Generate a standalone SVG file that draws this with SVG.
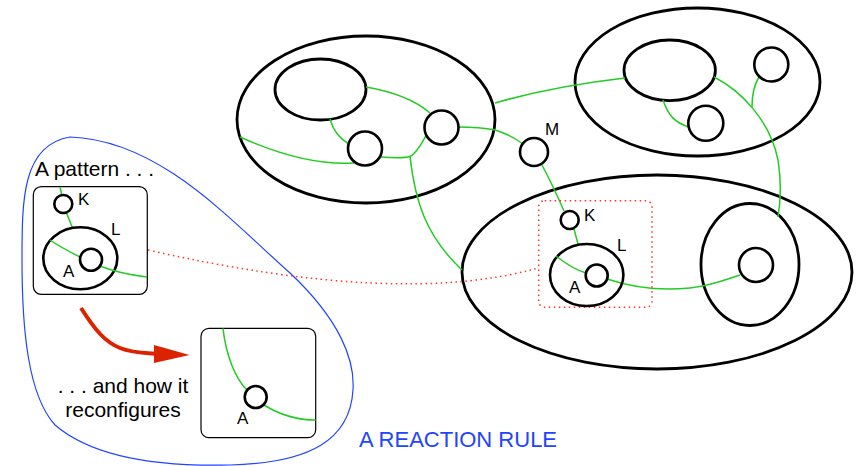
<svg xmlns="http://www.w3.org/2000/svg" width="864" height="466" viewBox="0 0 864 466">
<style>
.bg{fill:#fff}
.reg{fill:none;stroke:#000;stroke-width:2.8}
.nd{fill:#fff;stroke:#000;stroke-width:2.6}
.box{fill:#fff;stroke:#000;stroke-width:1.2}
.lnk{fill:none;stroke:#22cc22;stroke-width:1.5}
.dot{fill:none;stroke:#ff3322;stroke-width:1.5;stroke-dasharray:1.5 3.5}
.lbl{font-family:"Liberation Sans",Arial,sans-serif;font-size:17px;fill:#000}
.txt{font-family:"Liberation Sans",Arial,sans-serif;font-size:21px;fill:#000}
</style>
<rect class="bg" x="0" y="0" width="864" height="466"/>

<g id="rule-region">
<path d="M70,137 C160,140 230,220 290,273 C340,320 355,360 353,390 C350,440 310,463 230,465 C150,467 90,455 55,425 C28,395 22,330 22,260 C22,200 22,145 70,137 Z" fill="none" stroke="#2244ff" stroke-width="1.2"/>
<text x="359" y="447" font-family="Liberation Sans,Arial,sans-serif" font-size="22" fill="#2244ff">A REACTION RULE</text>
</g>

<g id="region-upper-left">
<ellipse class="reg" cx="366" cy="119.5" rx="129" ry="83.5"/>
<ellipse class="reg" cx="320.5" cy="89.5" rx="45.5" ry="30.5"/>
</g>
<g id="region-upper-right">
<ellipse class="reg" cx="697.5" cy="82" rx="122.5" ry="74"/>
<ellipse class="reg" cx="669.7" cy="70.3" rx="45.7" ry="30.3"/>
</g>
<g id="region-lower">
<ellipse class="reg" cx="657" cy="272" rx="195" ry="97"/>
<ellipse class="reg" cx="750" cy="264.5" rx="49" ry="61"/>
</g>

<g id="connectors">
<path class="lnk" d="M366,87 C395,92 415,100 430,113"/>
<path class="lnk" d="M330,119 C333,130 340,139 349,144"/>
<path class="lnk" d="M240,137 C280,155 320,165 354,163"/>
<path class="lnk" d="M381,157 C395,158 405,158 410,156.5"/>
<path class="lnk" d="M410,156.5 C418,152 422,142 427,134"/>
<path class="lnk" d="M410,156.5 C415,200 425,235 462,270"/>
<path class="lnk" d="M458,127 C475,127 485,128 495,130 C505,133 515,138 523,144"/>
<path class="lnk" d="M542,165 C550,180 557,195 564,211"/>
<path class="lnk" d="M495,103 C540,90 590,82 625,78"/>
<path class="lnk" d="M663,100 C668,115 675,123 689,127"/>
<path class="lnk" d="M714,77 C740,90 770,120 778,160 C782,185 780,205 778,217"/>
<path class="lnk" d="M759,77 C754,85 752,95 752,107"/>
<path class="lnk" d="M574,229 L578,244"/>
<path class="lnk" d="M607,279 C640,290 670,290 690,288 C710,286 725,280 740,275"/>
<path class="dot" d="M148,250 Q400,307 538,268"/>
</g>

<g id="node-M">
<circle class="nd" cx="534" cy="152" r="14"/>
<text class="lbl" x="545" y="135">M</text>
</g>
<g id="node-c1">
<circle class="nd" cx="365" cy="148.5" r="17"/>
</g>
<g id="node-c2">
<circle class="nd" cx="441.5" cy="127.5" r="17"/>
</g>
<g id="node-c3">
<circle class="nd" cx="771.3" cy="64.5" r="17"/>
</g>
<g id="node-c4">
<circle class="nd" cx="705.8" cy="123.3" r="17.5"/>
</g>
<g id="node-c5">
<circle class="nd" cx="756" cy="265" r="17"/>
</g>

<g id="match">
<rect class="dot" x="538.7" y="200.7" width="113.3" height="106.6" rx="6"/>
<circle class="nd" cx="569.7" cy="220" r="9"/>
<text class="lbl" x="584" y="221">K</text>
<ellipse cx="586.7" cy="275" rx="36.7" ry="31" fill="none" stroke="#000" stroke-width="2.6"/>
<path class="lnk" d="M556,256 C566,264 576,270 586,273"/>
<circle class="nd" cx="596.7" cy="275.5" r="11"/>
<text class="lbl" x="617" y="251">L</text>
<text class="lbl" x="569" y="292.5">A</text>
</g>

<g id="pattern">
<text class="txt" x="35" y="176">A pattern . . .</text>
<rect class="box" x="33.3" y="186.7" width="114" height="107.6" rx="8"/>
<path class="lnk" d="M60,187 L62,196"/>
<path class="lnk" d="M66.5,213 L72.5,228"/>
<ellipse class="nd" cx="80.3" cy="258.3" rx="37" ry="31"/>
<path class="lnk" d="M50,240 C60,247 70,252 80,257"/>
<path class="lnk" d="M100,266 C115,272 130,275 147,277"/>
<circle class="nd" cx="63.3" cy="204" r="9"/>
<circle class="nd" cx="91" cy="259.7" r="11"/>
<text class="lbl" x="78" y="205">K</text>
<text class="lbl" x="111" y="235">L</text>
<text class="lbl" x="63" y="277">A</text>
</g>

<g id="reaction-arrow">
<path d="M81,308 C95,330 105,342 120,348 C132,353 145,353 158,354" fill="none" stroke="#dd2200" stroke-width="4"/>
<path d="M154,345 L189.5,355 L154,363 Z" fill="#dd2200"/>
</g>

<g id="reconfigured">
<rect class="box" x="201" y="328.3" width="114.7" height="109.4" rx="8"/>
<path class="lnk" d="M223,328.3 C226,355 235,378 247,390"/>
<path class="lnk" d="M264,405 C280,415 295,420 315.7,420"/>
<circle class="nd" cx="255.7" cy="397" r="11"/>
<text class="lbl" x="237" y="424">A</text>
<text class="txt" x="123" y="393" text-anchor="middle" font-size="20">. . . and how it</text>
<text class="txt" x="123" y="417" text-anchor="middle" font-size="20">reconfigures</text>
</g>
</svg>
